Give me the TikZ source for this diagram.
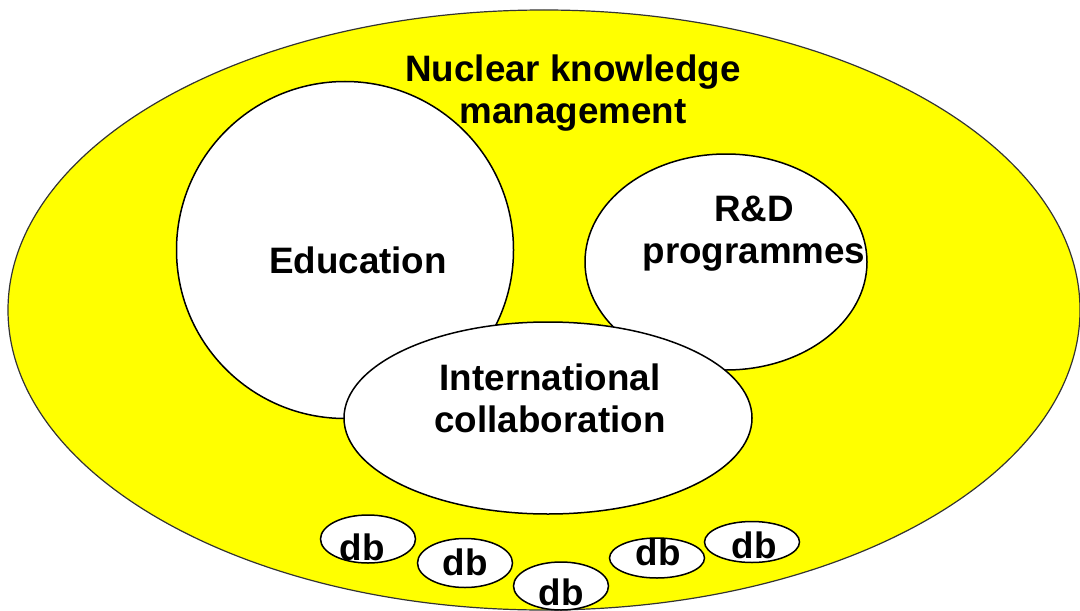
\documentclass[tikz,border=0pt]{standalone}
\usepackage{fontspec}
\setmainfont{Liberation Sans}
\usetikzlibrary{shapes.geometric}
\definecolor{nkmyellow}{RGB}{255,255,0}

\begin{document}
\begin{tikzpicture}[
    x=0.5pt, y=-0.5pt,
    font=\fontsize{18.4}{20.75}\selectfont\bfseries,
    field/.style  = {ellipse, draw=black!80, fill=nkmyellow, line width=0.6pt, inner sep=0pt},
    area/.style   = {ellipse, draw=black, fill=white, line width=0.75pt, inner sep=0pt},
    dbase/.style  = {area, minimum width=47.5pt},
    txt/.style    = {align=center, inner sep=0pt, anchor=base}
]
\useasboundingbox (0,0) rectangle (1080,610);

% OUTER FIELD
\node[field, minimum width=536pt, minimum height=300pt] (nkm) at (544,310) {};

% MAIN AREAS
\node[area, minimum width=168.5pt, minimum height=168.5pt] (edu) at (345,250) {};
\node[area, minimum width=141pt, minimum height=108pt]     (rnd) at (726,262) {};
\node[area, minimum width=204pt, minimum height=96pt]      (intl) at (548,418) {};

% DATABASES
\foreach \i/\cx/\cy/\h/\tx/\ty in {1/368/539/24/362/560, 2/465/563/24.5/465/575,
    3/561/586/24/561/605, 4/657/558/20/658/565, 5/752/542/20.5/754/558}{
  \node[dbase, minimum height=\h pt] (db\i) at (\cx,\cy) {};
  \node[txt] (dbt\i) at (\tx,\ty) {db};
}

% LABELS (base = last line)
\node[txt] (tnkm)  at (573,123) {Nuclear knowledge\\management};
\node[txt] (tedu)  at (358,273) {Education};
\node[txt] (trnd)  at (754,263) {R\&D\\programmes};
\node[txt] (tintl) at (550,432) {International\\collaboration};

\end{tikzpicture}
\end{document}
